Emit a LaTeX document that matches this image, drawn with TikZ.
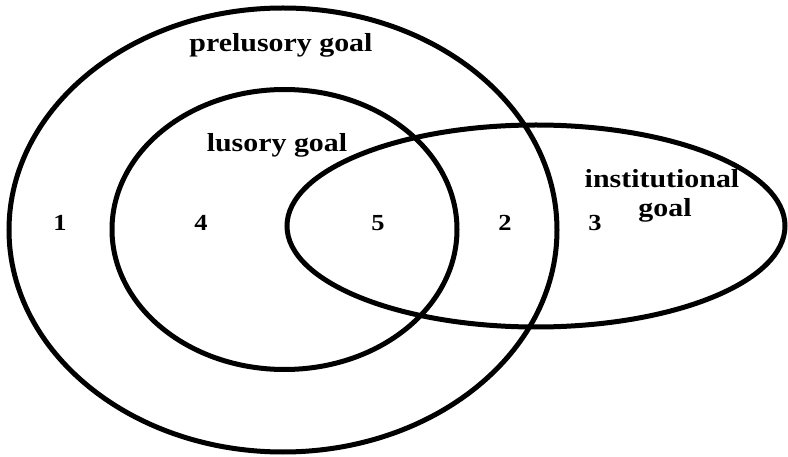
\documentclass[tikz,border=0pt]{standalone}
\usepackage{fontspec}
\setmainfont{Liberation Serif}[FakeStretch=1.15]
\begin{document}
\begin{tikzpicture}[x=1pt,y=-1pt,
  ring/.style={draw=black,line width=5pt},
  lbl/.style={font=\fontsize{26}{28}\selectfont\bfseries,anchor=base,inner sep=0pt},
  num/.style={font=\fontsize{23}{25}\selectfont\bfseries,anchor=base,inner sep=0pt}]
\useasboundingbox (0,0) rectangle (788,457);
\fill[white] (0,0) rectangle (788,457);
\draw[ring] (283,230) ellipse [x radius=274, y radius=222];
\draw[ring] (284.5,229.5) ellipse [x radius=172.5, y radius=140];
\draw[ring] (536,226) ellipse [x radius=249, y radius=101];
\node[lbl] (pre) at (281,52) {prelusory goal};
\node[lbl] (lus) at (277,152) {lusory goal};
\node[lbl] (inst) at (662,188) {institutional};
\node[lbl] (instg) at (665,217) {goal};
\node[num] (n1) at (60,231) {1};
\node[num] (n4) at (201,231) {4};
\node[num] (n5) at (378,231) {5};
\node[num] (n2) at (505,231) {2};
\node[num] (n3) at (595,231) {3};
\end{tikzpicture}
\end{document}
